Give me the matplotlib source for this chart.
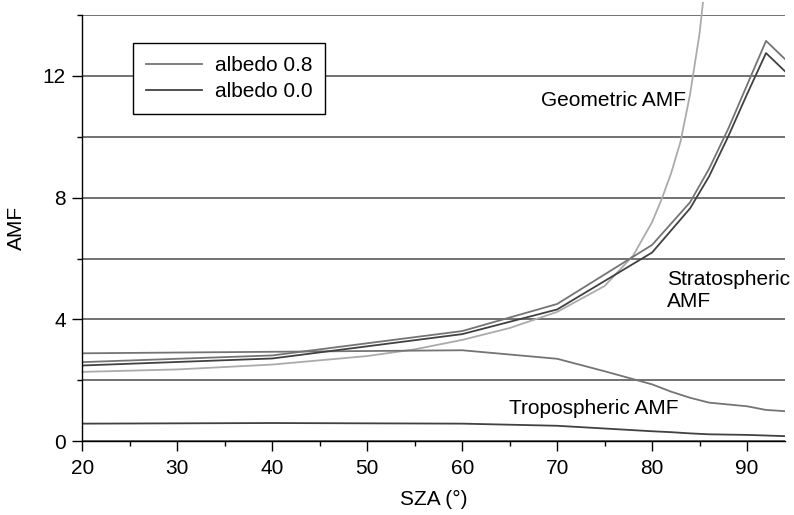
import numpy as np
import matplotlib
matplotlib.use('Agg')
import matplotlib.pyplot as plt
from matplotlib.ticker import MultipleLocator

plt.rcParams['font.family'] = ['Liberation Sans', 'DejaVu Sans']
plt.rcParams['font.size'] = 15

# stratospheric AMF
sza_strat = [20, 40, 60, 70, 80, 84, 86, 88, 90, 92, 94]
strat_08 = [2.60, 2.82, 3.62, 4.51, 6.45, 7.85, 8.95, 10.25, 11.7, 13.15, 12.55]
strat_00 = [2.49, 2.72, 3.52, 4.33, 6.20, 7.65, 8.70, 10.0, 11.4, 12.75, 12.15]

# tropospheric AMF
sza_trop = [20, 40, 60, 70, 75, 80, 82, 84, 86, 88, 90, 92, 94]
trop_08 = [2.89, 2.94, 2.99, 2.71, 2.30, 1.87, 1.63, 1.43, 1.27, 1.21, 1.15, 1.03, 0.99]
trop_00 = [0.58, 0.60, 0.58, 0.51, 0.42, 0.33, 0.30, 0.26, 0.23, 0.22, 0.21, 0.19, 0.17]

# geometric AMF
sza_geo = [20, 30, 40, 50, 55, 60, 65, 70, 75, 78, 80, 81, 82, 83, 84, 85, 85.35]
geo = [2.28, 2.36, 2.52, 2.80, 3.02, 3.33, 3.72, 4.25, 5.10, 6.10, 7.20, 7.95, 8.80, 9.85, 11.4, 13.4, 14.4]

c08 = '#747474'
c00 = '#414141'
cgeo = '#ababab'

fig = plt.figure(figsize=(7.94, 5.15), dpi=100)
ax = fig.add_axes([0.1039, 0.1431, 0.8848, 0.8278])

ax.set_xlim(20, 94)
ax.set_ylim(0, 14)
ax.xaxis.set_major_locator(MultipleLocator(10))
ax.xaxis.set_minor_locator(MultipleLocator(5))
ax.yaxis.set_major_locator(MultipleLocator(4))
ax.yaxis.set_minor_locator(MultipleLocator(2))
ax.grid(True, axis='y', which='both', color='#4a4a4a', lw=1.1)
ax.set_axisbelow(True)
for s in ['top', 'right']:
    ax.spines[s].set_visible(False)
for s in ['left', 'bottom']:
    ax.spines[s].set_linewidth(1.0)
ax.tick_params(which='major', length=7, width=1.0, direction='out')
ax.tick_params(axis='x', which='major', pad=6)
ax.tick_params(axis='y', which='major', pad=5)
ax.tick_params(which='minor', length=3.6, width=1.0, direction='out')

ax.plot(sza_geo, geo, color=cgeo, lw=1.3, clip_on=False)
ax.plot(sza_trop, trop_08, color=c08, lw=1.3)
ax.plot(sza_trop, trop_00, color=c00, lw=1.3)
ax.plot(sza_strat, strat_08, color=c08, lw=1.3, label='albedo 0.8')
ax.plot(sza_strat, strat_00, color=c00, lw=1.3, label='albedo 0.0')

ax.text(83.6, 11.2, 'Geometric AMF', ha='right', va='center')
ax.text(81.6, 4.95, 'Stratospheric\nAMF', ha='left', va='center', linespacing=1.15)
ax.text(73.8, 1.08, 'Tropospheric AMF', ha='center', va='center')

leg = ax.legend(loc='upper left', bbox_to_anchor=(0.0723, 0.9336), borderaxespad=0,
                fancybox=False, framealpha=1, edgecolor='black', handlelength=2.7,
                borderpad=0.6, labelspacing=0.35, handletextpad=0.6)
leg.get_frame().set_linewidth(1.0)

ax.set_xlabel('SZA (°)', labelpad=8)
ax.set_ylabel('AMF', labelpad=12)

plt.savefig('out.png', dpi=100)
